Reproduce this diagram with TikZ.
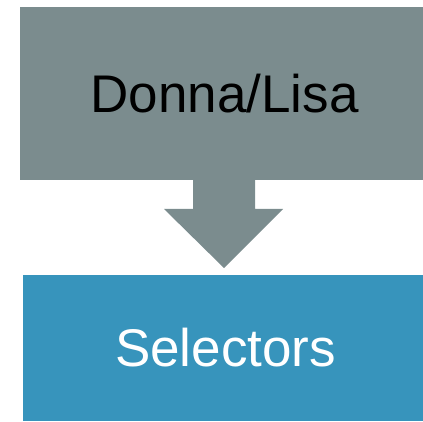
\documentclass[tikz,border=0pt]{standalone}
\usepackage{fontspec}
\setmainfont{Liberation Sans}
\usetikzlibrary{calc}
\definecolor{graybox}{RGB}{123,140,142}
\definecolor{bluebox}{RGB}{55,148,188}
\tikzset{
  box/.style={rectangle, inner sep=0pt, outer sep=0pt, font=\fontsize{53}{60}\selectfont},
}
\begin{document}
\begin{tikzpicture}[x=1pt,y=1pt]
\useasboundingbox (0,0) rectangle (423,421);
\node[box, fill=graybox, text=black, minimum width=403pt, minimum height=173pt] (top) at (221.5,327.5) {\hspace*{6pt}Donna/Lisa};
\node[box, fill=bluebox, text=white, minimum width=400pt, minimum height=146pt] (bot) at (223,73) {\hspace*{5pt}Selectors};
\coordinate (tip) at (224,153);
\fill[graybox] (193,241.5) -- (255,241.5) -- (255,212) -- (283,212) -- (tip) -- (164,212) -- (193,212) -- cycle;
\end{tikzpicture}
\end{document}
